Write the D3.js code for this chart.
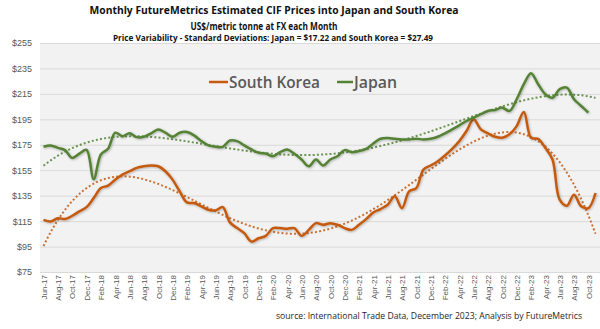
<!DOCTYPE html>
<meta charset="utf-8">
<style>
body { margin: 0; background: #fff; }
svg text { font-family: "Open Sans", "Liberation Sans", sans-serif; }
.grid line { stroke: #d9d9d9; stroke-width: 1; }
.ylab text { fill: #595959; font-size: 9px; font-family: "Liberation Sans", sans-serif; }
.xlab text { fill: #595959; font-size: 8px; font-family: "Liberation Sans Narrow", "Liberation Sans", sans-serif; }
</style>
<svg width="600" height="329"></svg>
<script src="https://cdn.jsdelivr.net/npm/d3@7"></script>
<script>

var months = [
  "Jun-17","Jul-17","Aug-17","Sep-17","Oct-17","Nov-17","Dec-17",
  "Jan-18","Feb-18","Mar-18","Apr-18","May-18","Jun-18","Jul-18","Aug-18","Sep-18","Oct-18","Nov-18","Dec-18",
  "Jan-19","Feb-19","Mar-19","Apr-19","May-19","Jun-19","Jul-19","Aug-19","Sep-19","Oct-19","Nov-19","Dec-19",
  "Jan-20","Feb-20","Mar-20","Apr-20","May-20","Jun-20","Jul-20","Aug-20","Sep-20","Oct-20","Nov-20","Dec-20",
  "Jan-21","Feb-21","Mar-21","Apr-21","May-21","Jun-21","Jul-21","Aug-21","Sep-21","Oct-21","Nov-21","Dec-21",
  "Jan-22","Feb-22","Mar-22","Apr-22","May-22","Jun-22","Jul-22","Aug-22","Sep-22","Oct-22","Nov-22","Dec-22",
  "Jan-23","Feb-23","Mar-23","Apr-23","May-23","Jun-23","Jul-23","Aug-23","Sep-23","Oct-23","Nov-23"
];

// US$/tonne
var korea = [
  116, 114.7, 117.3, 116.6, 119.2, 122.6, 126, 133.1, 141, 142.9,
  147.6, 151.6, 154.2, 156.8, 158.1, 158.7, 158.1, 154.2, 147.6, 138.4,
  129.7, 129.2, 126.6, 123.9, 123.4, 126, 114, 109.5, 105.5, 98.9,
  101.5, 103.4, 109.5, 109.5, 109, 109.5, 103.4, 108.1, 113.4, 112.1,
  113.4, 112.1, 109.5, 108.1, 112.1, 116.6, 121.8, 124.5, 127.9, 134.5,
  125.2, 138.4, 141, 155.5, 158.7, 162.1, 166.6, 171.8, 177.9, 185.8,
  195, 187.1, 184, 181.3, 180.5, 183.2, 189.7, 200.8, 180.5, 179.7,
  172.6, 163.4, 131.8, 127.1, 135.8, 126.6, 125.2, 137.1
];

var japan = [
  173.4, 174.5, 172.6, 170.8, 164.7, 168, 171, 148, 167.4, 171.8,
  184.5, 181.8, 184, 181, 181.3, 184, 187, 184.5, 181.3, 184.5,
  185, 182.4, 178, 174.5, 173.4, 173.4, 178.4, 177.9, 174.5, 171.3,
  168.7, 168.1, 166, 169.2, 171.3, 167.9, 163.4, 158.1, 163.4, 158.7,
  163.4, 166, 170.8, 169.2, 170, 171.8, 176, 179.7, 180.3, 179.7,
  179.2, 179.2, 179.7, 179.2, 179.7, 181.3, 184, 187.1, 190.3, 193.7,
  196.3, 199, 201.6, 202.4, 204.2, 201.6, 210.8, 222.6, 231.3, 222.6,
  214.7, 212, 218.7, 220, 210.8, 205.5, 200.3
];

var yTicks = [75, 95, 115, 135, 155, 175, 195, 215, 235, 255];

var orange = "#c55a11", green = "#548235";

var svg = d3.select("svg");

var x = d3.scalePoint().domain(months).range([43.5, 595.5]);
var y = d3.scaleLinear().domain([75, 255]).range([272, 43]);

function xi(i) { return x(months[0]) + i * x.step(); }

var defs = svg.append("defs");
defs.append("filter").attr("id", "shadow")
    .attr("x", "-5%").attr("y", "-5%").attr("width", "110%").attr("height", "110%")
  .append("feDropShadow")
    .attr("dx", 0.8).attr("dy", 0.8).attr("stdDeviation", 0.8)
    .attr("flood-color", "#000").attr("flood-opacity", 0.3);

// plot area
svg.append("rect")
    .attr("x", 40).attr("y", 43)
    .attr("width", 560).attr("height", 229)
    .attr("fill", "#f2f2f2");

svg.append("g")
    .attr("class", "grid")
    .attr("transform", "translate(40,0)")
    .call(d3.axisLeft(y).tickValues(yTicks).tickSize(-560).tickFormat(""))
    .call(g => g.select(".domain").remove());

svg.append("g")
    .attr("class", "ylab")
    .attr("transform", "translate(40,0)")
    .call(d3.axisLeft(y).tickValues(yTicks).tickSize(0).tickPadding(8).tickFormat(d => "$" + d))
    .call(g => g.select(".domain").remove());

svg.append("g")
    .attr("class", "xlab")
    .attr("transform", "translate(0,272)")
    .call(d3.axisBottom(x).tickValues(months.filter((d, i) => i % 2 == 0)).tickSize(0))
    .call(g => g.select(".domain").remove())
    .selectAll("text")
      .attr("transform", "rotate(-90)")
      .attr("x", -3).attr("y", 0).attr("dy", "0.35em")
      .style("text-anchor", "end");

// polynomial trend (least squares), like the spreadsheet trendline
function polyfit(vals, deg) {
  var c = 38.5, m = deg + 1;
  var A = d3.range(m).map(() => d3.range(m + 1).map(() => 0));
  vals.forEach((v, i) => {
    var t = (i - c) / c;
    for (var r = 0; r < m; r++) {
      for (var k = 0; k < m; k++) A[r][k] += Math.pow(t, r + k);
      A[r][m] += v * Math.pow(t, r);
    }
  });
  for (var p = 0; p < m; p++) {
    for (var r = p + 1; r < m; r++) {
      var f = A[r][p] / A[p][p];
      for (var k = p; k <= m; k++) A[r][k] -= f * A[p][k];
    }
  }
  var coef = new Array(m);
  for (var r = m - 1; r >= 0; r--) {
    var s = A[r][m];
    for (var k = r + 1; k < m; k++) s -= A[r][k] * coef[k];
    coef[r] = s / A[r][r];
  }
  return function(i) {
    var t = (i - c) / c, s = 0;
    for (var k = 0; k < m; k++) s += coef[k] * Math.pow(t, k);
    return s;
  };
}

var steps = d3.range(0, 77.01, 0.5);
var trendLine = d3.line().x(d => xi(d[0])).y(d => y(d[1]));

[[korea, orange], [japan, green]].forEach(function(s) {
  var f = polyfit(s[0], 4);
  svg.append("path")
      .attr("d", trendLine(steps.map(i => [i, f(i)])))
      .attr("fill", "none")
      .attr("stroke", s[1])
      .attr("stroke-width", 2)
      .attr("stroke-dasharray", "2 2.2")
      .attr("opacity", 0.85);
});

var line = d3.line()
    .x((d, i) => xi(i))
    .y(d => y(d))
    .curve(d3.curveCatmullRom.alpha(0.5));

svg.append("path")
    .attr("d", line(korea))
    .attr("fill", "none")
    .attr("stroke", orange)
    .attr("stroke-width", 2.5)
    .attr("filter", "url(#shadow)");

svg.append("path")
    .attr("d", line(japan))
    .attr("fill", "none")
    .attr("stroke", green)
    .attr("stroke-width", 2.5)
    .attr("filter", "url(#shadow)");

// legend
var legend = [
  { name: "South Korea", color: orange, x: 209, len: 19, w: 91 },
  { name: "Japan", color: green, x: 337, len: 16, w: 43 }
];
var lg = svg.selectAll(".legend").data(legend).enter().append("g")
    .attr("class", "legend")
    .attr("transform", d => "translate(" + d.x + ",82)");
lg.append("line")
    .attr("x1", 0).attr("x2", d => d.len)
    .attr("stroke", d => d.color).attr("stroke-width", 2.5);
lg.append("text")
    .attr("x", d => d.len + 1)
    .attr("dy", "0.35em")
    .attr("textLength", d => d.w)
    .attr("lengthAdjust", "spacingAndGlyphs")
    .style("font-size", "16px")
    .style("font-weight", 600)
    .style("fill", "#595959")
    .text(d => d.name);

// titles
var titles = [
  { t: "Monthly FutureMetrics Estimated CIF Prices into Japan and South Korea", x: 274, y: 14, s: 11, w: 369 },
  { t: "US$/metric tonne at FX each Month", x: 264, y: 29.5, s: 10, w: 147 },
  { t: "Price Variability - Standard Deviations: Japan = $17.22 and South Korea = $27.49", x: 273, y: 41, s: 8.5, w: 320 }
];
svg.selectAll(".title").data(titles).enter().append("text")
    .attr("class", "title")
    .attr("x", d => d.x).attr("y", d => d.y)
    .attr("text-anchor", "middle")
    .attr("textLength", d => d.w)
    .attr("lengthAdjust", "spacingAndGlyphs")
    .style("font-size", d => d.s + "px")
    .style("font-weight", "bold")
    .style("fill", "#111")
    .text(d => d.t);

svg.append("text")
    .attr("x", 276).attr("y", 319)
    .attr("textLength", 306)
    .attr("lengthAdjust", "spacingAndGlyphs")
    .style("font-size", "9px")
    .style("fill", "#262626")
    .text("source: International Trade Data, December 2023; Analysis by FutureMetrics");

</script>
